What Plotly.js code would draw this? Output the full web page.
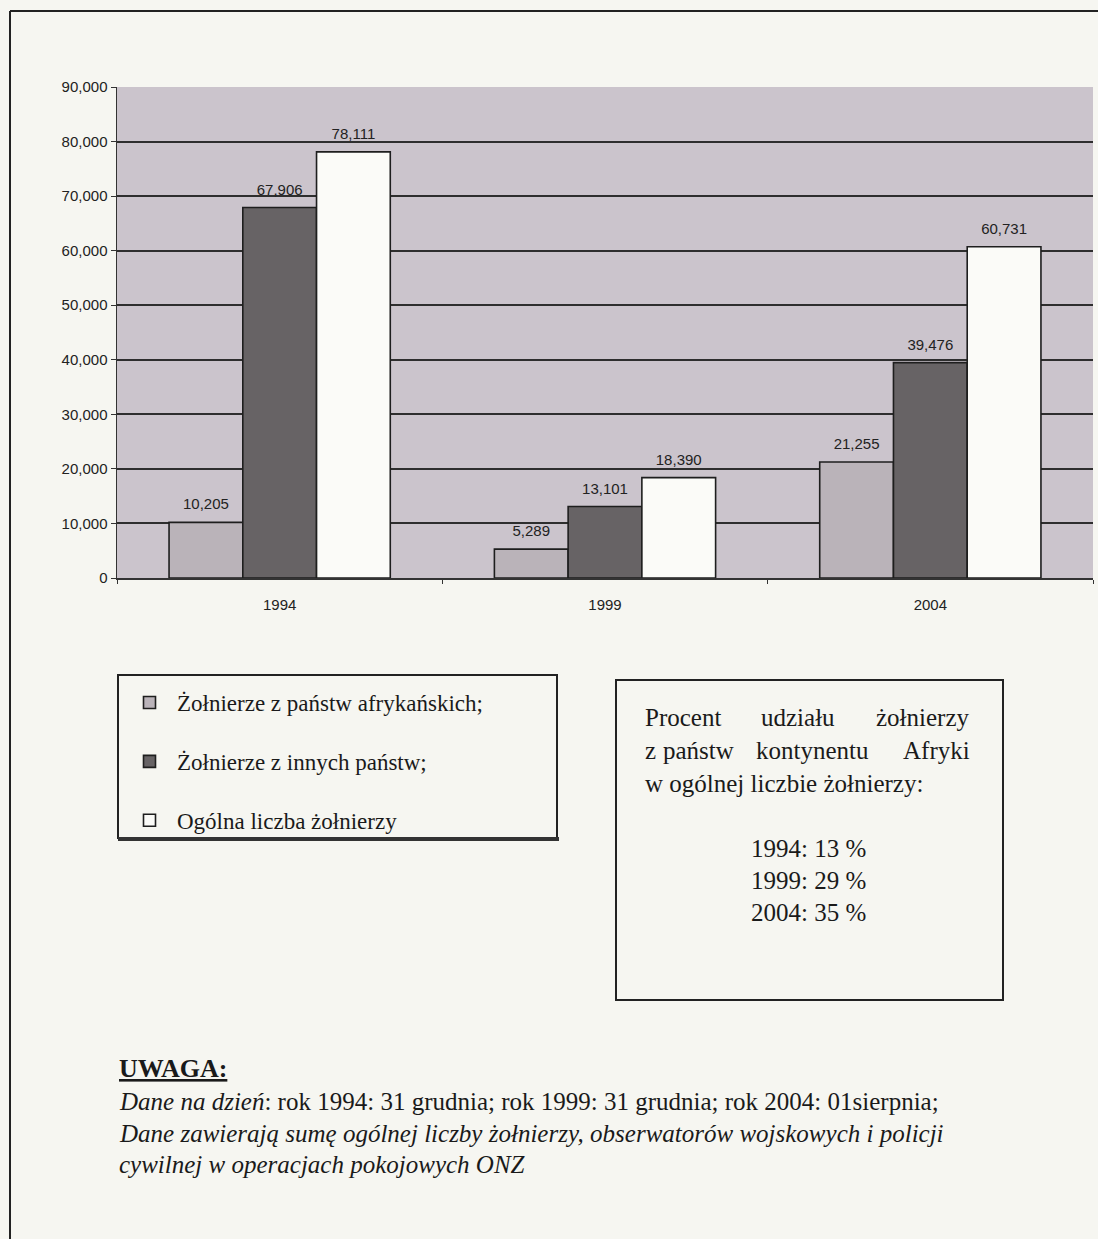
<!DOCTYPE html>
<html>
<head>
<meta charset="utf-8">
<script src="https://cdn.plot.ly/plotly-3.0.1.min.js"></script>
<style>
html,body{margin:0;padding:0;background:#f6f6f1;}
#chart{width:1098px;height:1239px;}
</style>
</head>
<body>
<div id="chart"></div>
<script>
var years = ['1994', '1999', '2004'];
var seriesNames = ['Żołnierze z państw afrykańskich;', 'Żołnierze z innych państw;', 'Ogólna liczba żołnierzy'];
var african = [10205, 5289, 21255];
var other = [67906, 13101, 39476];
var total = [78111, 18390, 60731];
var yTicks = [0, 10000, 20000, 30000, 40000, 50000, 60000, 70000, 80000, 90000];
var boxLine1 = ['Procent', 'udziału', 'żołnierzy'];
var boxLine2 = ['z', 'państw', 'kontynentu', 'Afryki'];
var boxLine3 = 'w ogólnej liczbie żołnierzy:';
var shareLines = ['1994: 13 %', '1999: 29 %', '2004: 35 %'];
var noteTitle = 'UWAGA:';
var noteLine1 = '<i>Dane na dzień</i>: rok 1994: 31 grudnia; rok 1999: 31 grudnia; rok 2004: 01sierpnia;';
var noteLine2 = '<i>Dane zawierają sumę ogólnej liczby żołnierzy, obserwatorów wojskowych i policji</i>';
var noteLine3 = '<i>cywilnej w operacjach pokojowych ONZ</i>';

var W = 1098, H = 1239, L = 117, R = 5, T = 87, B = 661;
var PW = W - L - R, PH = H - T - B;
function px(x) { return (x - L) / PW; }
function py(y) { return (H - B - y) / PH; }

var serif = 'Liberation Serif, Times New Roman, serif';
var sans = 'Liberation Sans, Arial, sans-serif';
var ink = '#1a1a1a';

function barTrace(vals, name, color) {
  return {
    type: 'bar', x: years, y: vals, name: name, legendgroup: name,
    marker: {color: color, line: {color: '#1e1e1e', width: 1.6}},
    hoverinfo: 'x+y'
  };
}
// value labels: grouped scatter text placed above each bar
function labelTrace(vals, name) {
  return {
    type: 'scatter', x: years, y: vals, name: name + ' (etykiety)', showlegend: false,
    mode: 'markers+text', texttemplate: '%{y:,d}', textposition: 'top center',
    marker: {size: 13, color: 'rgba(0,0,0,0)'}, cliponaxis: false,
    textfont: {family: sans, size: 15, color: '#222'}, hoverinfo: 'skip'
  };
}

var data = [
  barTrace(african, seriesNames[0], '#bab3b9'),
  barTrace(other, seriesNames[1], '#676365'),
  barTrace(total, seriesNames[2], '#fbfbf8'),
  labelTrace(african, seriesNames[0]),
  labelTrace(other, seriesNames[1]),
  labelTrace(total, seriesNames[2])
];

var shapes = [
  // page frame
  {type: 'line', xref: 'paper', yref: 'paper', x0: px(10), x1: px(10), y0: py(11), y1: py(1245), line: {color: '#222', width: 2}},
  {type: 'line', xref: 'paper', yref: 'paper', x0: px(10), x1: px(1105), y0: py(11), y1: py(11), line: {color: '#222', width: 2}},
  // legend box
  {type: 'rect', xref: 'paper', yref: 'paper', x0: px(118), x1: px(557), y0: py(675), y1: py(838), line: {color: '#222', width: 2}, fillcolor: 'rgba(0,0,0,0)'},
  {type: 'line', xref: 'paper', yref: 'paper', x0: px(118), x1: px(559), y0: py(839), y1: py(839), line: {color: '#333', width: 4}},
  // text box
  {type: 'rect', xref: 'paper', yref: 'paper', x0: px(616), x1: px(1003), y0: py(680), y1: py(1000), line: {color: '#222', width: 2}, fillcolor: 'rgba(0,0,0,0)'}
];

var annotations = [];
function txt(x, y, t, anchor, size, family) {
  annotations.push({xref: 'paper', yref: 'paper', x: px(x), y: py(y), text: t, showarrow: false,
    xanchor: anchor, yanchor: 'middle', font: {family: family || serif, size: size, color: ink}});
}
// justified first two lines of the text box
txt(643, 717, boxLine1[0], 'left', 25);
txt(798, 717, boxLine1[1], 'center', 25);
txt(972, 717, boxLine1[2], 'right', 25);
txt(643, 750, boxLine2[0], 'left', 25);
txt(698, 750, boxLine2[1], 'center', 25);
txt(812, 750, boxLine2[2], 'center', 25);
txt(972, 750, boxLine2[3], 'right', 25);
txt(643, 783, boxLine3, 'left', 25);
var shareY = [848, 880, 912];
shareLines.forEach(function (t, i) { txt(808, shareY[i], t, 'center', 25); });
txt(117, 1068, '<b><u>' + noteTitle + '</u></b>', 'left', 26);
txt(117, 1101, noteLine1, 'left', 25);
txt(117, 1133, noteLine2, 'left', 25);
txt(117, 1164, noteLine3, 'left', 25);

var layout = {
  width: W, height: H,
  margin: {l: L, r: R, t: T, b: B},
  paper_bgcolor: '#f6f6f1',
  plot_bgcolor: '#cbc4cc',
  barmode: 'group', bargap: 0.32, bargroupgap: 0,
  scattermode: 'group', scattergap: 0.32,
  showlegend: true,
  legend: {
    x: px(122), y: py(681), xanchor: 'left', yanchor: 'top',
    bgcolor: 'rgba(0,0,0,0)', borderwidth: 0,
    font: {family: serif, size: 23, color: ink},
    tracegroupgap: 26, itemwidth: 45
  },
  xaxis: {
    type: 'category', showline: true, linecolor: '#333', linewidth: 1.5,
    ticks: 'outside', ticklen: 4, tickcolor: '#333', tickson: 'boundaries',
    ticklabelstandoff: 12,
    showgrid: false, tickfont: {family: sans, size: 15, color: '#222'},
    fixedrange: true
  },
  yaxis: {
    range: [0, 90000], tickvals: yTicks, tickformat: ',d',
    showline: true, linecolor: '#333', linewidth: 1.5,
    ticks: 'outside', ticklen: 5, tickcolor: '#333',
    showgrid: true, gridcolor: '#2e2e2e', gridwidth: 2,
    zeroline: false, tickfont: {family: sans, size: 15, color: '#222'},
    fixedrange: true
  },
  shapes: shapes,
  annotations: annotations
};

Plotly.newPlot('chart', data, layout, {displayModeBar: false, staticPlot: true});
</script>
</body>
</html>
